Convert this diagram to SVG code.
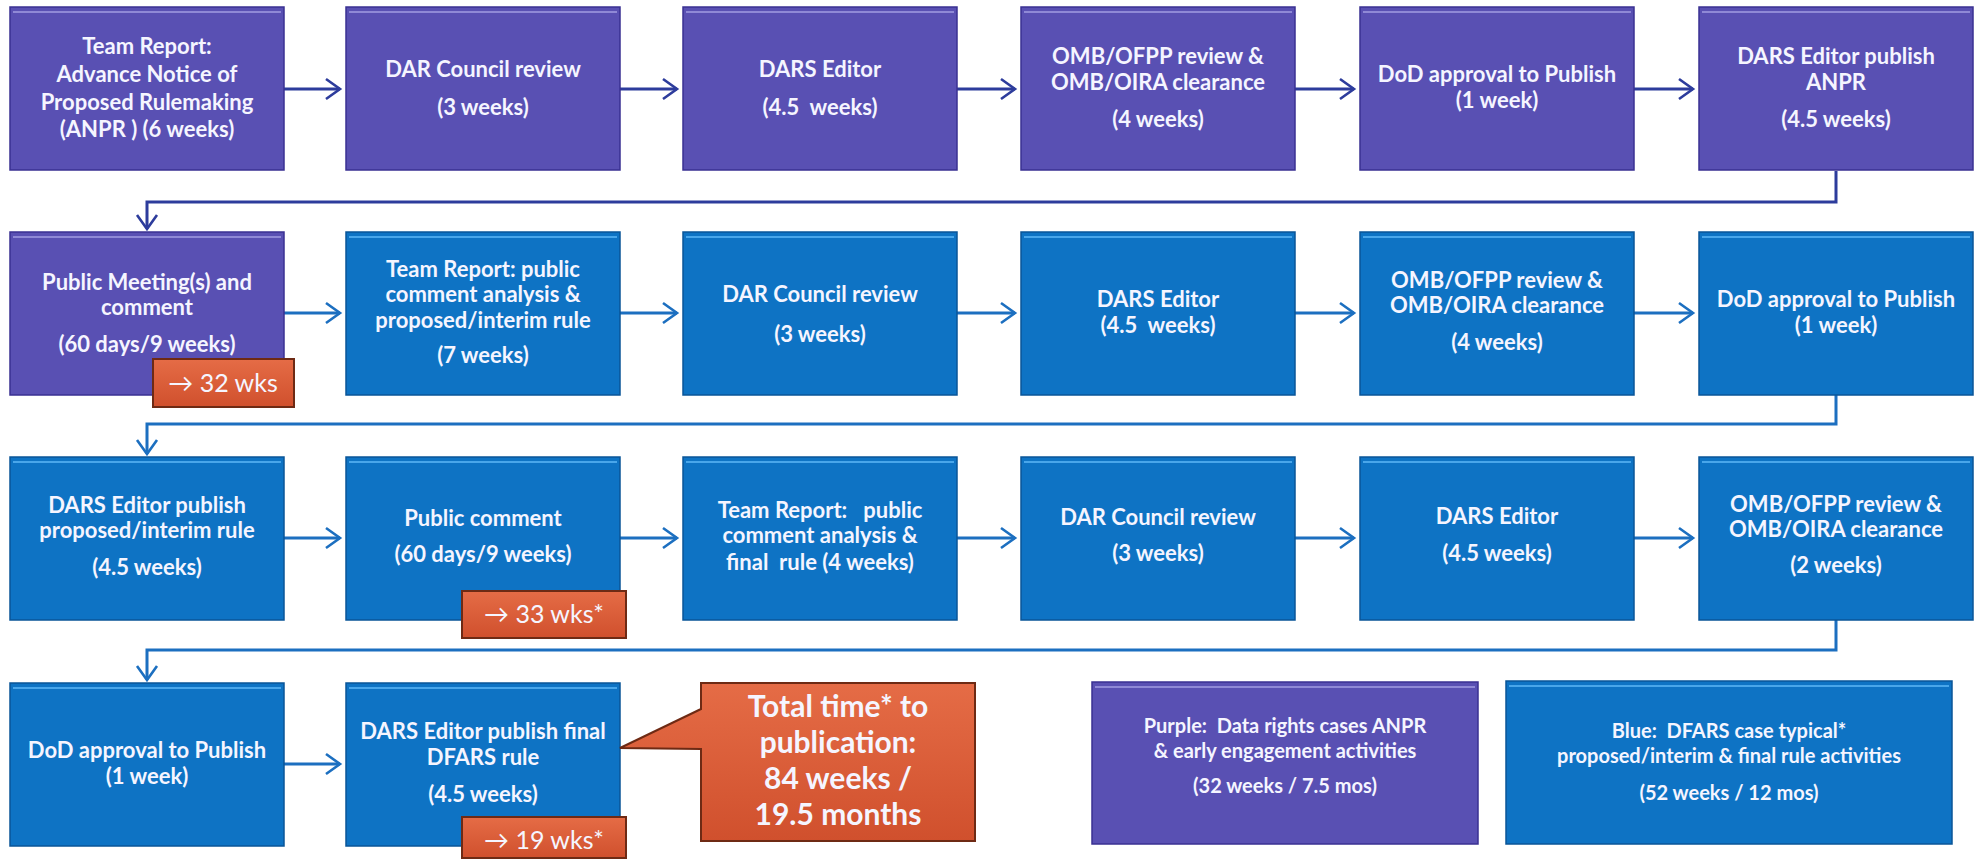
<svg xmlns="http://www.w3.org/2000/svg" width="1982" height="860" viewBox="0 0 1982 860">
  <style>
    text { font-family: Lato, "Liberation Sans", "DejaVu Sans", sans-serif; font-weight: bold; text-anchor: middle; fill: #f5f5ff; }
    .t { font-size: 22px; }
    .leg { font-size: 20px; }
    .big { font-size: 30px; }
    .badge-t { font-size: 25px; font-weight: normal; }
    .purple { fill: #5950b3; stroke: #3a3192; stroke-width: 1.5; }
    .blue { fill: #0e73c4; stroke: #0a5598; stroke-width: 1.5; }
    .orange { fill: url(#og); stroke: #6e2a14; stroke-width: 2; }
    .hl-p { stroke: #8f89d6; stroke-width: 2; }
    .hl-b { stroke: #49a6ea; stroke-width: 2; }
    .navy { stroke: #2d3c9c; stroke-width: 3; fill: none; }
    .azure { stroke: #1c6fc0; stroke-width: 3; fill: none; }
  </style>
  <defs>
    <linearGradient id="og" x1="0" y1="0" x2="0" y2="1">
      <stop offset="0" stop-color="#e56c46"/>
      <stop offset="1" stop-color="#d0502d"/>
    </linearGradient>
    <marker id="ah-navy" markerUnits="userSpaceOnUse" markerWidth="22" markerHeight="24" refX="17" refY="12" orient="auto">
      <path d="M3,2 L17,12 L3,22" fill="none" stroke="#2d3c9c" stroke-width="2.6"/>
    </marker>
    <marker id="ah-blue" markerUnits="userSpaceOnUse" markerWidth="22" markerHeight="24" refX="17" refY="12" orient="auto">
      <path d="M3,2 L17,12 L3,22" fill="none" stroke="#1c6fc0" stroke-width="2.6"/>
    </marker>
  </defs>

  <rect width="1982" height="860" fill="#ffffff"/>

  <!-- connectors -->
  <g id="connectors">
    <!-- row 1 -->
    <path class="navy" d="M284,89 H340" marker-end="url(#ah-navy)"/>
    <path class="navy" d="M620,89 H677" marker-end="url(#ah-navy)"/>
    <path class="navy" d="M957,89 H1015" marker-end="url(#ah-navy)"/>
    <path class="navy" d="M1295,89 H1354" marker-end="url(#ah-navy)"/>
    <path class="navy" d="M1634,89 H1693" marker-end="url(#ah-navy)"/>
    <path class="navy" d="M1836,171 V202 H147 V229" marker-end="url(#ah-navy)"/>
    <!-- row 2 -->
    <path class="azure" d="M284,313 H340" marker-end="url(#ah-blue)"/>
    <path class="azure" d="M620,313 H677" marker-end="url(#ah-blue)"/>
    <path class="azure" d="M957,313 H1015" marker-end="url(#ah-blue)"/>
    <path class="azure" d="M1295,313 H1354" marker-end="url(#ah-blue)"/>
    <path class="azure" d="M1634,313 H1693" marker-end="url(#ah-blue)"/>
    <path class="azure" d="M1836,395 V424 H147 V454" marker-end="url(#ah-blue)"/>
    <!-- row 3 -->
    <path class="azure" d="M284,538 H340" marker-end="url(#ah-blue)"/>
    <path class="azure" d="M620,538 H677" marker-end="url(#ah-blue)"/>
    <path class="azure" d="M957,538 H1015" marker-end="url(#ah-blue)"/>
    <path class="azure" d="M1295,538 H1354" marker-end="url(#ah-blue)"/>
    <path class="azure" d="M1634,538 H1693" marker-end="url(#ah-blue)"/>
    <path class="azure" d="M1836,620 V650 H147 V680" marker-end="url(#ah-blue)"/>
    <!-- row 4 -->
    <path class="azure" d="M284,764 H340" marker-end="url(#ah-blue)"/>
  </g>

  <!-- row 1 : ANPR stage -->
  <g id="n1">
    <rect class="purple" x="10" y="7" width="274" height="163"/>
    <line class="hl-p" x1="13" y1="12" x2="281" y2="12"/>
    <text class="t" x="147" y="54">Team Report:</text>
    <text class="t" x="147" y="82">Advance Notice of</text>
    <text class="t" x="147" y="110">Proposed Rulemaking</text>
    <text class="t" x="147" y="137">(ANPR ) (6 weeks)</text>
  </g>
  <g id="n2">
    <rect class="purple" x="346" y="7" width="274" height="163"/>
    <line class="hl-p" x1="349" y1="12" x2="617" y2="12"/>
    <text class="t" x="483" y="77">DAR Council review</text>
    <text class="t" x="483" y="115">(3 weeks)</text>
  </g>
  <g id="n3">
    <rect class="purple" x="683" y="7" width="274" height="163"/>
    <line class="hl-p" x1="686" y1="12" x2="954" y2="12"/>
    <text class="t" x="820" y="77">DARS Editor</text>
    <text class="t" x="820" y="115" xml:space="preserve">(4.5  weeks)</text>
  </g>
  <g id="n4">
    <rect class="purple" x="1021" y="7" width="274" height="163"/>
    <line class="hl-p" x1="1024" y1="12" x2="1292" y2="12"/>
    <text class="t" x="1158" y="64">OMB/OFPP review &amp;</text>
    <text class="t" x="1158" y="90">OMB/OIRA clearance</text>
    <text class="t" x="1158" y="127">(4 weeks)</text>
  </g>
  <g id="n5">
    <rect class="purple" x="1360" y="7" width="274" height="163"/>
    <line class="hl-p" x1="1363" y1="12" x2="1631" y2="12"/>
    <text class="t" x="1497" y="82">DoD approval to Publish</text>
    <text class="t" x="1497" y="108">(1 week)</text>
  </g>
  <g id="n6">
    <rect class="purple" x="1699" y="7" width="274" height="163"/>
    <line class="hl-p" x1="1702" y1="12" x2="1970" y2="12"/>
    <text class="t" x="1836" y="64">DARS Editor publish</text>
    <text class="t" x="1836" y="90">ANPR</text>
    <text class="t" x="1836" y="127">(4.5 weeks)</text>
  </g>

  <!-- row 2 -->
  <g id="n7">
    <rect class="purple" x="10" y="232" width="274" height="163"/>
    <line class="hl-p" x1="13" y1="237" x2="281" y2="237"/>
    <text class="t" x="147" y="290">Public Meeting(s) and</text>
    <text class="t" x="147" y="315">comment</text>
    <text class="t" x="147" y="352">(60 days/9 weeks)</text>
  </g>
  <g id="b1">
    <rect class="orange" x="153" y="359" width="141" height="48"/>
    <text class="badge-t" x="223" y="392">→ 32 wks</text>
  </g>
  <g id="n8">
    <rect class="blue" x="346" y="232" width="274" height="163"/>
    <line class="hl-b" x1="349" y1="237" x2="617" y2="237"/>
    <text class="t" x="483" y="277">Team Report: public</text>
    <text class="t" x="483" y="302">comment analysis &amp;</text>
    <text class="t" x="483" y="328">proposed/interim rule</text>
    <text class="t" x="483" y="363">(7 weeks)</text>
  </g>
  <g id="n9">
    <rect class="blue" x="683" y="232" width="274" height="163"/>
    <line class="hl-b" x1="686" y1="237" x2="954" y2="237"/>
    <text class="t" x="820" y="302">DAR Council review</text>
    <text class="t" x="820" y="342">(3 weeks)</text>
  </g>
  <g id="n10">
    <rect class="blue" x="1021" y="232" width="274" height="163"/>
    <line class="hl-b" x1="1024" y1="237" x2="1292" y2="237"/>
    <text class="t" x="1158" y="307">DARS Editor</text>
    <text class="t" x="1158" y="333" xml:space="preserve">(4.5  weeks)</text>
  </g>
  <g id="n11">
    <rect class="blue" x="1360" y="232" width="274" height="163"/>
    <line class="hl-b" x1="1363" y1="237" x2="1631" y2="237"/>
    <text class="t" x="1497" y="288">OMB/OFPP review &amp;</text>
    <text class="t" x="1497" y="313">OMB/OIRA clearance</text>
    <text class="t" x="1497" y="350">(4 weeks)</text>
  </g>
  <g id="n12">
    <rect class="blue" x="1699" y="232" width="274" height="163"/>
    <line class="hl-b" x1="1702" y1="237" x2="1970" y2="237"/>
    <text class="t" x="1836" y="307">DoD approval to Publish</text>
    <text class="t" x="1836" y="333">(1 week)</text>
  </g>

  <!-- row 3 -->
  <g id="n13">
    <rect class="blue" x="10" y="457" width="274" height="163"/>
    <line class="hl-b" x1="13" y1="462" x2="281" y2="462"/>
    <text class="t" x="147" y="513">DARS Editor publish</text>
    <text class="t" x="147" y="538">proposed/interim rule</text>
    <text class="t" x="147" y="575">(4.5 weeks)</text>
  </g>
  <g id="n14">
    <rect class="blue" x="346" y="457" width="274" height="163"/>
    <line class="hl-b" x1="349" y1="462" x2="617" y2="462"/>
    <text class="t" x="483" y="526">Public comment</text>
    <text class="t" x="483" y="562">(60 days/9 weeks)</text>
  </g>
  <g id="b2">
    <rect class="orange" x="462" y="591" width="164" height="47"/>
    <text class="badge-t" x="544" y="623">→ 33 wks*</text>
  </g>
  <g id="n15">
    <rect class="blue" x="683" y="457" width="274" height="163"/>
    <line class="hl-b" x1="686" y1="462" x2="954" y2="462"/>
    <text class="t" x="820" y="518" xml:space="preserve">Team Report:   public</text>
    <text class="t" x="820" y="543">comment analysis &amp;</text>
    <text class="t" x="820" y="570" xml:space="preserve">final  rule (4 weeks)</text>
  </g>
  <g id="n16">
    <rect class="blue" x="1021" y="457" width="274" height="163"/>
    <line class="hl-b" x1="1024" y1="462" x2="1292" y2="462"/>
    <text class="t" x="1158" y="525">DAR Council review</text>
    <text class="t" x="1158" y="561">(3 weeks)</text>
  </g>
  <g id="n17">
    <rect class="blue" x="1360" y="457" width="274" height="163"/>
    <line class="hl-b" x1="1363" y1="462" x2="1631" y2="462"/>
    <text class="t" x="1497" y="524">DARS Editor</text>
    <text class="t" x="1497" y="561">(4.5 weeks)</text>
  </g>
  <g id="n18">
    <rect class="blue" x="1699" y="457" width="274" height="163"/>
    <line class="hl-b" x1="1702" y1="462" x2="1970" y2="462"/>
    <text class="t" x="1836" y="512">OMB/OFPP review &amp;</text>
    <text class="t" x="1836" y="537">OMB/OIRA clearance</text>
    <text class="t" x="1836" y="573">(2 weeks)</text>
  </g>

  <!-- row 4 -->
  <g id="n19">
    <rect class="blue" x="10" y="683" width="274" height="163"/>
    <line class="hl-b" x1="13" y1="688" x2="281" y2="688"/>
    <text class="t" x="147" y="758">DoD approval to Publish</text>
    <text class="t" x="147" y="784">(1 week)</text>
  </g>
  <g id="n20">
    <rect class="blue" x="346" y="683" width="274" height="163"/>
    <line class="hl-b" x1="349" y1="688" x2="617" y2="688"/>
    <text class="t" x="483" y="739">DARS Editor publish final</text>
    <text class="t" x="483" y="765">DFARS rule</text>
    <text class="t" x="483" y="802">(4.5 weeks)</text>
  </g>
  <g id="b3">
    <rect class="orange" x="462" y="817" width="164" height="41"/>
    <text class="badge-t" x="544" y="849">→ 19 wks*</text>
  </g>

  <!-- total time callout -->
  <g id="total">
    <path class="orange" d="M701,683 H975 V841 H701 V749 L620,748 L701,709 Z"/>
    <text class="big" x="838" y="717">Total time* to</text>
    <text class="big" x="838" y="753">publication:</text>
    <text class="big" x="838" y="789">84 weeks /</text>
    <text class="big" x="838" y="825">19.5 months</text>
  </g>

  <!-- legend -->
  <g id="legend-purple">
    <rect class="purple" x="1092" y="682" width="386" height="162"/>
    <line class="hl-p" x1="1095" y1="687" x2="1475" y2="687"/>
    <text class="leg" x="1285" y="733" xml:space="preserve">Purple:  Data rights cases ANPR</text>
    <text class="leg" x="1285" y="758">&amp; early engagement activities</text>
    <text class="leg" x="1285" y="793">(32 weeks / 7.5 mos)</text>
  </g>
  <g id="legend-blue">
    <rect class="blue" x="1506" y="681" width="446" height="163"/>
    <line class="hl-b" x1="1509" y1="686" x2="1949" y2="686"/>
    <text class="leg" x="1729" y="738" xml:space="preserve">Blue:  DFARS case typical*</text>
    <text class="leg" x="1729" y="763">proposed/interim &amp; final rule activities</text>
    <text class="leg" x="1729" y="800">(52 weeks / 12 mos)</text>
  </g>
</svg>
